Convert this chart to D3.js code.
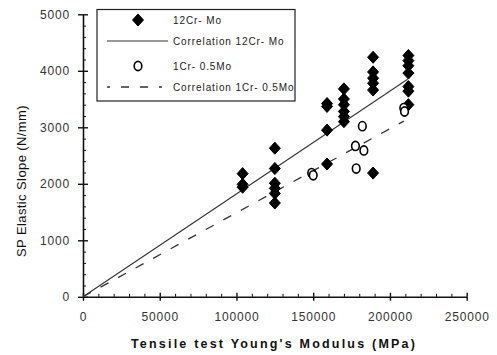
<!DOCTYPE html>
<html>
<head>
<meta charset="utf-8">
<script src="https://cdn.jsdelivr.net/npm/d3@7"></script>
<style>
  html, body { margin: 0; padding: 0; background: #fff; }
  svg { display: block; font-family: Arial, "Liberation Sans", sans-serif; }
</style>
</head>
<body>
<svg id="chart" width="497" height="355"></svg>
<script>
// ---- data ----
const xTicks = [0, 50000, 100000, 150000, 200000, 250000];
const yTicks = [0, 1000, 2000, 3000, 4000, 5000];

const cr12X = [104000,104000,104000,
               125000,125000,125000,125000,125000,125000,
               159000,159000,159000,159000,
               170000,170000,170000,170000,170000,170000,
               189000,189000,189000,189000,189000,189000,
               212000,212000,212000,212000,212000,212000,212000];
const cr12Y = [2180,1990,1940,
               2630,2270,2010,1920,1830,1660,
               3420,3370,2950,2350,
               3680,3500,3400,3280,3190,3100,
               4240,3980,3870,3780,3660,2190,
               4270,4180,4090,3960,3720,3640,3400];

const cr1X = [149000,150000,182000,177500,183000,178000,209000,209500];
const cr1Y = [2190,2150,3020,2670,2590,2270,3340,3280];

const corr12X = [0, 211500];
const corr12Y = [0, 3850];
const corr1X = [0, 209000];
const corr1Y = [0, 3110];

const legendLabels = ["12Cr- Mo", "Correlation 12Cr- Mo", "1Cr- 0.5Mo", "Correlation 1Cr- 0.5Mo"];

// ---- scales ----
const svg = d3.select("#chart");
const x = d3.scaleLinear().domain([0, 250000]).range([83, 466.7]);
const y = d3.scaleLinear().domain([0, 5000]).range([296.8, 14.3]);

const ink = "#111";

// ---- axes ----
const yMinor = d3.range(0, 5001, 200).filter(v => v % 1000 !== 0);
const xMinor = d3.range(0, 250001, 10000).filter(v => v % 50000 !== 0);

const gy = svg.append("g").attr("transform", `translate(${x(0)},0)`)
  .call(d3.axisLeft(y).tickValues(yTicks).tickFormat(d3.format("d")).tickSize(5).tickPadding(8).tickSizeOuter(0));
gy.select(".domain").attr("stroke", ink).attr("stroke-width", 1.6);
gy.selectAll(".tick line").attr("stroke", ink).attr("stroke-width", 1.4);
gy.selectAll(".tick text").attr("font-size", 12).attr("fill", "#333").attr("letter-spacing", "0.8px");
svg.append("g").attr("transform", `translate(${x(0)},0)`)
  .call(d3.axisRight(y).tickValues(yTicks).tickSize(5).tickFormat("").tickSizeOuter(0))
  .call(g => g.select(".domain").remove())
  .selectAll("line").attr("stroke", ink).attr("stroke-width", 1.4);
svg.append("g").attr("transform", `translate(${x(0)},0)`)
  .call(d3.axisRight(y).tickValues(yMinor).tickSize(3).tickFormat("").tickSizeOuter(0))
  .call(g => g.select(".domain").remove())
  .selectAll("line").attr("stroke", ink).attr("stroke-width", 1);

const gx = svg.append("g").attr("transform", `translate(0,${y(0)})`)
  .call(d3.axisBottom(x).tickValues(xTicks).tickFormat(d3.format("d")).tickSize(4).tickPadding(12).tickSizeOuter(0));
gx.select(".domain").attr("stroke", ink).attr("stroke-width", 1.6);
gx.selectAll(".tick line").attr("stroke", ink).attr("stroke-width", 1.4);
gx.selectAll(".tick text").attr("font-size", 12).attr("fill", "#333").attr("letter-spacing", "0.8px");
svg.append("g").attr("transform", `translate(0,${y(0)})`)
  .call(d3.axisTop(x).tickValues(xTicks).tickSize(4).tickFormat("").tickSizeOuter(0))
  .call(g => g.select(".domain").remove())
  .selectAll("line").attr("stroke", ink).attr("stroke-width", 1.4);
svg.append("g").attr("transform", `translate(0,${y(0)})`)
  .call(d3.axisTop(x).tickValues(xMinor).tickSize(3).tickFormat("").tickSizeOuter(0))
  .call(g => g.select(".domain").remove())
  .selectAll("line").attr("stroke", ink).attr("stroke-width", 1);

// axis titles
svg.append("text")
  .attr("x", 274).attr("y", 348)
  .attr("text-anchor", "middle")
  .attr("font-size", 12.5).attr("font-weight", "bold")
  .attr("letter-spacing", "2.2px").attr("fill", "#111")
  .text("Tensile test Young's Modulus (MPa)");
svg.append("text")
  .attr("transform", "translate(26,181) rotate(-90)")
  .attr("text-anchor", "middle")
  .attr("font-size", 13).attr("letter-spacing", "0.4px").attr("fill", "#111")
  .text("SP Elastic Slope (N/mm)");

// ---- correlation lines ----
const line = d3.line().x(d => x(d[0])).y(d => y(d[1]));
svg.append("path").datum(d3.zip(corr12X, corr12Y))
  .attr("d", line).attr("fill", "none").attr("stroke", "#333").attr("stroke-width", 1.1);
svg.append("path").datum(d3.zip(corr1X, corr1Y))
  .attr("d", line).attr("fill", "none").attr("stroke", "#333").attr("stroke-width", 1.3)
  .attr("stroke-dasharray", "9,11");

// ---- markers ----
const diamond = (cx, cy, r) => `M${cx},${cy - r * 1.1}L${cx + r},${cy}L${cx},${cy + r * 1.1}L${cx - r},${cy}Z`;
svg.append("g").selectAll("path").data(d3.zip(cr12X, cr12Y)).join("path")
  .attr("d", d => diamond(x(d[0]), y(d[1]), 5.5))
  .attr("fill", "#000").attr("stroke", "#000").attr("stroke-width", 1).attr("stroke-linejoin", "round");

svg.append("g").selectAll("ellipse").data(d3.zip(cr1X, cr1Y)).join("ellipse")
  .attr("cx", d => x(d[0])).attr("cy", d => y(d[1]))
  .attr("rx", 3.8).attr("ry", 4.6)
  .attr("fill", "#fff").attr("stroke", "#000").attr("stroke-width", 1.6);

// ---- legend ----
const lg = svg.append("g");
lg.append("rect").attr("x", 97).attr("y", 9.5).attr("width", 198).attr("height", 91.5)
  .attr("fill", "#fff").attr("stroke", "#222").attr("stroke-width", 1.2);
const rowY = [20, 41, 66, 87];
const textX = 173;
lg.append("path").attr("d", diamond(138, rowY[0], 5.5)).attr("fill", "#000").attr("stroke", "#000").attr("stroke-width", 1).attr("stroke-linejoin", "round");
lg.append("line").attr("x1", 107).attr("x2", 168).attr("y1", rowY[1]).attr("y2", rowY[1])
  .attr("stroke", "#333").attr("stroke-width", 1.1);
lg.append("ellipse").attr("cx", 138).attr("cy", rowY[2]).attr("rx", 3.8).attr("ry", 4.6)
  .attr("fill", "#fff").attr("stroke", "#000").attr("stroke-width", 1.6);
lg.append("line").attr("x1", 107).attr("x2", 168).attr("y1", rowY[3]).attr("y2", rowY[3])
  .attr("stroke", "#333").attr("stroke-width", 1.3).attr("stroke-dasharray", "3,11,8,11,8,11");
lg.selectAll("text.lab").data(legendLabels).join("text").attr("class", "lab")
  .attr("x", textX).attr("y", (d, i) => rowY[i]).attr("dy", "0.35em")
  .attr("font-size", 10).attr("fill", "#222").attr("letter-spacing", "0.9px")
  .text(d => d);
</script>
</body>
</html>
